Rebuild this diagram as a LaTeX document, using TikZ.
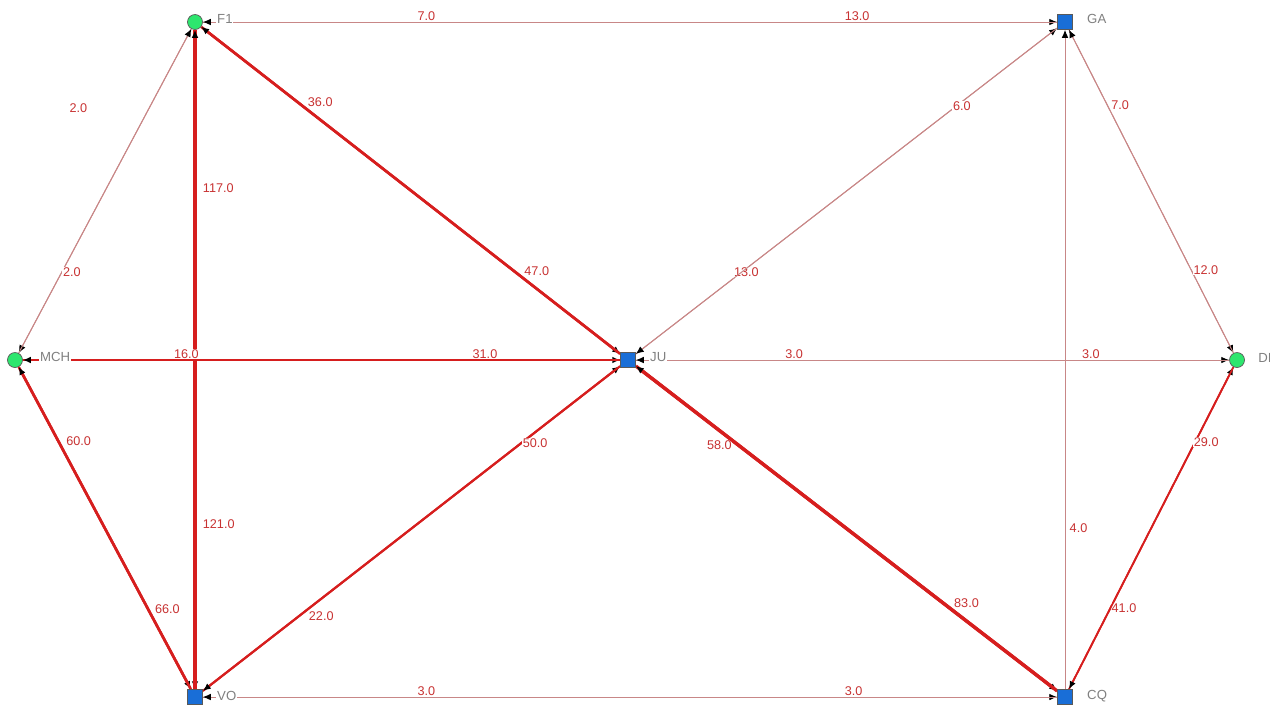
\documentclass[tikz,border=0pt]{standalone}
\usepackage{fontspec}
\setmainfont{Liberation Sans}
\usetikzlibrary{arrows.meta,backgrounds}

\definecolor{edgered}{RGB}{214,30,30}
\definecolor{edgepink}{RGB}{200,135,135}
\definecolor{labred}{RGB}{200,50,50}
\definecolor{vgreen}{RGB}{45,230,110}
\definecolor{vblue}{RGB}{25,110,215}

\tikzset{
  vcirc/.style={circle, fill=vgreen, draw=black!65, thin, minimum size=0.3cm, inner sep=0pt},
  vsq/.style={rectangle, fill=vblue, draw=black!65, thin, minimum size=0.3cm, inner sep=0pt},
  vname/.style={font=\fontsize{7.5}{8}\selectfont, text=black!50, fill=white, inner sep=0.5pt, anchor=west},
  wt/.style={font=\fontsize{7.2}{8}\selectfont, text=labred, fill=white, inner sep=0.4pt, pos=0.25},
  link/.style={-{Latex[length=4.5pt,width=3.8pt,color=black]}, draw=edgered},
  faint/.style={link, draw=edgepink, line width=0.55pt},
}

\begin{document}
\begin{tikzpicture}[x=0.02cm, y=-0.02cm]
    \useasboundingbox (0,0) rectangle (1270,704);
    % vertices
    \node[vcirc] (F1)  at (195,22)   {};
    \node[vsq]   (GA)  at (1065,22)  {};
    \node[vcirc] (MCH) at (15,360)   {};
    \node[vsq]   (JU)  at (628,360)  {};
    \node[vcirc] (DI)  at (1237,360) {};
    \node[vsq]   (VO)  at (195,697)  {};
    \node[vsq]   (CQ)  at (1065,697) {};
    % names
    \node[vname] (F1n)  at (216,19)  {F1};
    \node[vname] (GAn)  at (1086,19) {GA};
    \node[vname] (MCHn) at (39,357)  {MCH};
    \node[vname] (JUn)  at (649,357) {JU};
    \node[vname] (DIn)  at (1257,358) {DI};
    \node[vname] (VOn)  at (216,696) {VO};
    \node[vname] (CQn)  at (1086,696) {CQ};
    % edges
    \begin{scope}[on background layer]
    % light ones
    \draw[faint] (F1) -- node[wt, anchor=south west] {7.0} (GA);
    \draw[faint] (GA) -- node[wt, anchor=south west] {13.0} (F1);
    \draw[faint] (F1) -- node[wt, anchor=east, xshift=-34pt, yshift=1pt] {2.0} (MCH);
    \draw[faint] (MCH) -- node[wt, anchor=west] {2.0} (F1);
    \draw[faint] (GA) -- node[wt, anchor=south west] {7.0} (DI);
    \draw[faint] (DI) -- node[wt, anchor=south west, yshift=-2pt] {12.0} (GA);
    \draw[faint] (JU) -- node[wt, xshift=3pt] {13.0} (GA);
    \draw[faint] (GA) -- node[wt, anchor=west, yshift=2pt] {6.0} (JU);
    \draw[faint] (JU) -- node[wt, anchor=south west] {3.0} (DI);
    \draw[faint] (DI) -- node[wt, anchor=south west] {3.0} (JU);
    \draw[faint] (CQ) -- node[wt, anchor=west, xshift=2pt, yshift=-2pt] {4.0} (GA);
    \draw[faint] (VO) -- node[wt, anchor=south west] {3.0} (CQ);
    \draw[faint] (CQ) -- node[wt, anchor=south west] {3.0} (VO);
    % heavy ones
    \draw[link, line width=1.0pt] (CQ) -- node[wt, anchor=west] {41.0} (DI);
    \draw[link, line width=1.0pt] (DI) -- node[wt, anchor=west, yshift=3pt] {29.0} (CQ);
    \draw[link, line width=1.2pt] (VO) -- node[wt, anchor=north west] {22.0} (JU);
    \draw[link, line width=1.2pt] (JU) -- node[wt, anchor=west, xshift=3pt, yshift=2.5pt] {50.0} (VO);
    \draw[link, line width=1.5pt] (MCH) -- node[wt, anchor=south west, xshift=1.5pt] {60.0} (VO);
    \draw[link, line width=1.5pt] (VO) -- node[wt, anchor=south west, xshift=3pt, yshift=-4pt] {66.0} (MCH);
    \draw[link, line width=1.5pt] (F1) -- node[wt, anchor=south west] {36.0} (JU);
    \draw[link, line width=1.5pt] (JU) -- node[wt, anchor=south west, xshift=4pt, yshift=-3pt] {47.0} (F1);
    \draw[link, line width=1.9pt] (JU) -- node[wt, anchor=east, xshift=-4pt, yshift=1pt] {58.0} (CQ);
    \draw[link, line width=1.9pt] (CQ) -- node[wt, anchor=south west] {83.0} (JU);
    \draw[link, line width=2.2pt] (F1) -- node[wt, anchor=west, xshift=3pt, yshift=4pt] {117.0} (VO);
    \draw[link, line width=2.2pt] (VO) -- node[wt, anchor=west, xshift=3pt] {121.0} (F1);
    \draw[link, line width=1.3pt] (MCH) -- node[wt, anchor=south west] {16.0} (JU);
    \draw[link, line width=1.3pt] (JU) -- node[wt, anchor=south west] {31.0} (MCH);
    \end{scope}
\end{tikzpicture}
\end{document}
